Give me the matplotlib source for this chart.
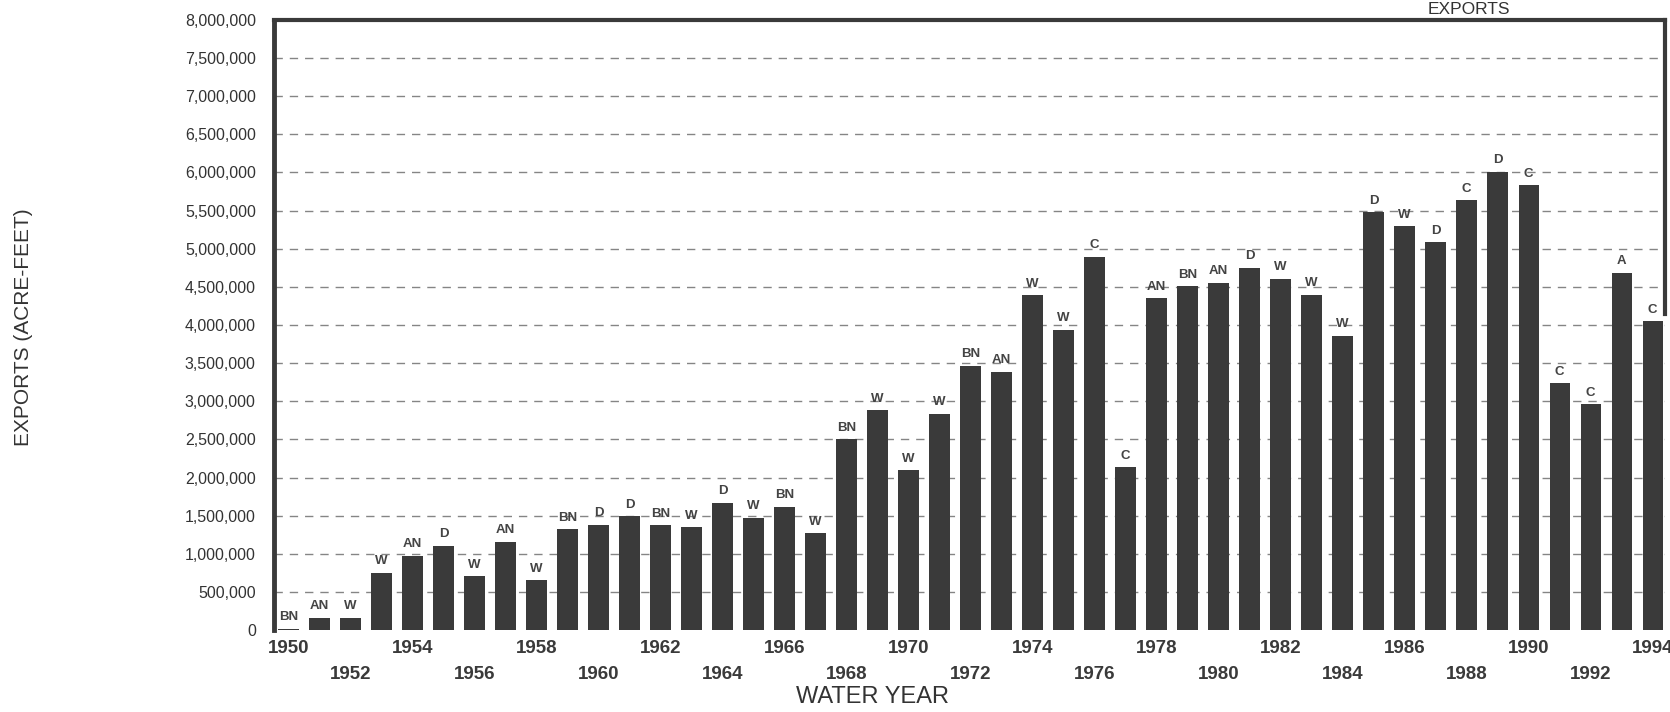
import matplotlib
matplotlib.use("Agg")
import matplotlib.pyplot as plt
from matplotlib.ticker import StrMethodFormatter

plt.rcParams['font.family'] = ['Liberation Sans', 'DejaVu Sans']

# -------------------------------
# Data
# -------------------------------
years = list(range(1950, 1995))

exports = [
    20000, 160000, 160000, 752000, 978000, 1109000, 704000, 1161000, 652000, 1322000,
    1383000, 1490000, 1377000, 1351000, 1671000, 1474000, 1618000, 1268000, 2504000, 2882000,
    2096000, 2838000, 3469000, 3390000, 4390000, 3937000, 4895000, 2134000, 4352000, 4507000,
    4552000, 4752000, 4610000, 4396000, 3862000, 5478000, 5295000, 5086000, 5635000, 6008000,
    5831000, 3235000, 2959000, 4682000, 4047000,
]

year_types = [
    "BN", "AN", "W", "W", "AN", "D", "W", "AN", "W", "BN",
    "D", "D", "BN", "W", "D", "W", "BN", "W", "BN", "W",
    "W", "W", "BN", "AN", "W", "W", "C", "C", "AN", "BN",
    "AN", "D", "W", "W", "W", "D", "W", "D", "C", "D",
    "C", "C", "C", "A", "C",
]

upper_years = list(range(1950, 1995, 4))
lower_years = list(range(1952, 1995, 4))
y_ticks = list(range(0, 8000001, 500000))

# -------------------------------
# Plot
# -------------------------------
fig = plt.figure(figsize=(16.7, 7.12), dpi=100)
ax = fig.add_axes([0.164, 0.115, 0.833, 0.857])

bars = ax.bar(years, exports, width=0.65, color="#3a3a3a", zorder=3)
ax.bar_label(bars, labels=year_types, padding=4, fontsize=9.5, fontweight="bold",
             color="#444444", zorder=4)

ax.set_xlim(1949.53, 1994.4)
ax.set_ylim(0, 8000000)

ax.set_yticks(y_ticks)
ax.yaxis.set_major_formatter(StrMethodFormatter("{x:,.0f}"))
ax.tick_params(axis="y", length=0, pad=13, labelsize=11.5, labelcolor="#333333")

# alternating rows of year labels
ax.set_xticks(upper_years, [str(y) for y in upper_years])
ax.set_xticks(lower_years, [str(y) for y in lower_years], minor=True)
ax.tick_params(axis="x", which="both", length=0, labelsize=13.5, labelcolor="#3a3a3a")
ax.tick_params(axis="x", which="major", pad=7)
ax.tick_params(axis="x", which="minor", pad=26)
for lab in ax.get_xticklabels(which="both"):
    lab.set_fontweight("bold")

ax.yaxis.grid(True, linestyle=(0, (6, 5)), color="#858585", linewidth=1.0, zorder=1)
ax.get_ygridlines()[0].set_visible(False)
ax.get_ygridlines()[-1].set_visible(False)

# thick frame: top, left and a partial right side
ax.spines["bottom"].set_visible(False)
ax.spines["left"].set_linewidth(3.5)
ax.spines["top"].set_linewidth(3.0)
ax.spines["right"].set_linewidth(3.0)
for s in ["left", "top", "right"]:
    ax.spines[s].set_color("#3a3a3a")
ax.spines["right"].set_bounds(4150000, 8000000)

ax.set_xlabel("WATER YEAR", fontsize=17, color="#333333", va="center")
ax.xaxis.set_label_coords(0.43, -0.11)
ax.set_ylabel("EXPORTS (ACRE-FEET)", fontsize=15, color="#333333", va="center")
ax.yaxis.set_label_coords(-0.180, 0.496)

fig.text(1469 / 1670, 1 - 9 / 712, "EXPORTS", fontsize=12.5, color="#333333",
         ha="center", va="center")

fig.savefig("out.png", dpi=100)
